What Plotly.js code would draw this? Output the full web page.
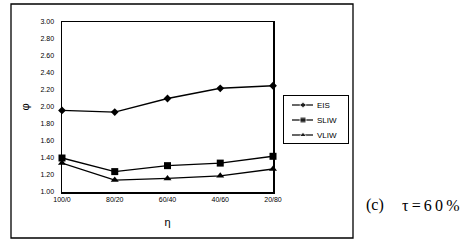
<!DOCTYPE html>
<html><head><meta charset="utf-8">
<script src="https://cdn.plot.ly/plotly-3.0.1.min.js"></script>
<style>html,body{margin:0;padding:0;background:#fff;}#chart{width:464px;height:242px;}</style>
</head><body><div id="chart"></div>
<script>
var categories = ["100/0", "80/20", "60/40", "40/60", "20/80"];
var eis  = [1.96, 1.94, 2.10, 2.22, 2.25];
var sliw = [1.40, 1.24, 1.31, 1.34, 1.42];
var vliw = [1.34, 1.14, 1.16, 1.19, 1.27];
var seriesNames = ["EIS", "SLIW", "VLIW"];
var yTicks = [1.00, 1.20, 1.40, 1.60, 1.80, 2.00, 2.20, 2.40, 2.60, 2.80, 3.00];
var yTickLabels = yTicks.map(function(v){ return v.toFixed(2); });

var W = 464, H = 242;
function px(x) { return x / W; }
function py(y) { return (H - y) / H; }

var styles = [
  {symbol: 'diamond', size: 6},
  {symbol: 'square', size: 7},
  {symbol: 'triangle-up', size: 7}
];
var values = [eis, sliw, vliw];

var data = [];
values.forEach(function(v, i) {
  data.push({x: categories, y: v, name: seriesNames[i], type: 'scatter', mode: 'lines+markers',
    xaxis: 'x', yaxis: 'y', showlegend: false, cliponaxis: false,
    line: {color: '#000', width: 1.4},
    marker: {symbol: styles[i].symbol, size: styles[i].size, color: '#000'}});
});

// compact legend like the original, drawn on its own small axes
var legendRowY = [38, 23, 8];
var annotations = [];
values.forEach(function(v, i) {
  data.push({x: [8, 19, 29], y: [legendRowY[i], legendRowY[i], legendRowY[i]],
    xaxis: 'x2', yaxis: 'y2', type: 'scatter', mode: 'lines+markers', showlegend: false,
    hoverinfo: 'skip', cliponaxis: false,
    line: {color: '#000', width: 1.2},
    marker: {symbol: styles[i].symbol, size: [0, styles[i].size - 1, 0], color: '#000'}});
  annotations.push({xref: 'x2', yref: 'y2', x: 31, y: legendRowY[i], xanchor: 'left', yanchor: 'middle',
    showarrow: false, text: seriesNames[i], font: {size: 8, color: '#000'}});
});

var ts = '\u2009';
annotations.push(
  {xref: 'paper', yref: 'paper', x: px(375), y: py(205), xanchor: 'center', yanchor: 'middle', showarrow: false,
   text: '(c)', font: {family: 'Liberation Serif, Times New Roman, serif', size: 16, color: '#000'}},
  {xref: 'paper', yref: 'paper', x: px(431), y: py(205), xanchor: 'center', yanchor: 'middle', showarrow: false,
   text: 'τ' + ts + '=' + ts + '6' + ts + '0' + ts + '%',
   font: {family: 'Liberation Serif, Times New Roman, serif', size: 16, color: '#000'}}
);

var layout = {
  width: W, height: H,
  margin: {l: 0, r: 0, t: 0, b: 0},
  paper_bgcolor: '#fff', plot_bgcolor: 'rgba(0,0,0,0)',
  font: {family: 'Arial, Liberation Sans, sans-serif', color: '#000', size: 7},
  showlegend: false,
  xaxis: {domain: [px(62), px(273)], anchor: 'y', type: 'category', range: [0, 4], showgrid: false, zeroline: false,
    showline: true, linecolor: '#000', linewidth: 1.5, mirror: true, ticks: '', automargin: false,
    tickfont: {size: 7}, title: {text: 'η', font: {size: 11}, standoff: 16}},
  yaxis: {domain: [py(192), py(22)], anchor: 'x', range: [1, 3], tickvals: yTicks, ticktext: yTickLabels,
    showgrid: false, zeroline: false, automargin: false,
    showline: true, linecolor: '#000', linewidth: 1.5, mirror: true, ticks: '', ticklabelstandoff: 5,
    tickfont: {size: 7}, title: {text: 'φ', font: {size: 11}, standoff: 8}},
  xaxis2: {domain: [px(284), px(348)], anchor: 'y2', range: [0, 64], showgrid: false, zeroline: false,
    showticklabels: false, ticks: '', showline: true, linecolor: '#000', linewidth: 1, mirror: true, fixedrange: true},
  yaxis2: {domain: [py(143), py(96)], anchor: 'x2', range: [0, 47], showgrid: false, zeroline: false,
    showticklabels: false, ticks: '', showline: true, linecolor: '#000', linewidth: 1, mirror: true, fixedrange: true},
  shapes: [{type: 'rect', xref: 'paper', yref: 'paper', x0: px(11), x1: px(353), y0: py(238), y1: py(4),
    line: {color: '#000', width: 1.3}}],
  annotations: annotations
};
Plotly.newPlot('chart', data, layout, {displayModeBar: false, staticPlot: true});
</script></body></html>
